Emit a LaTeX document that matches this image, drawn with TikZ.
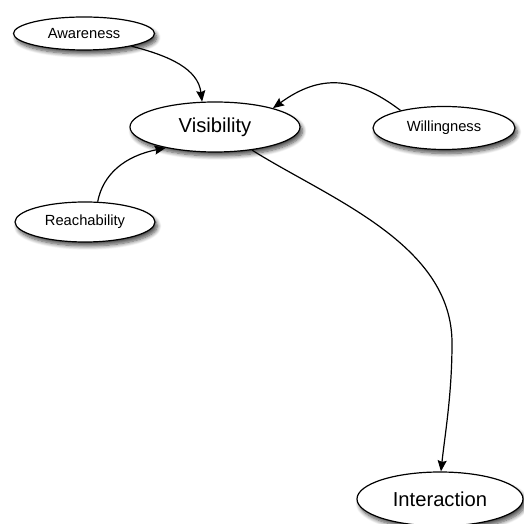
\documentclass[tikz,border=0pt]{standalone}
\usepackage{fontspec}
\setmainfont{Liberation Sans}
\usetikzlibrary{shapes.geometric,arrows.meta,shadows.blur}
\tikzset{
  bubble/.style={ellipse, draw=black, fill=white, line width=1.2pt, inner sep=0pt,
    blur shadow={shadow xshift=2.5pt, shadow yshift=-4pt, shadow blur steps=8, shadow blur radius=4pt, shadow opacity=70}},
  smalltext/.style={font=\fontsize{14.7}{16}\selectfont},
  bigtext/.style={font=\fontsize{20.2}{22}\selectfont},
  link/.style={line width=1.2pt, -{Stealth[length=11pt,width=9pt,inset=1.5pt]}}
}
\begin{document}
\begin{tikzpicture}[x=1pt,y=1pt]
\useasboundingbox (0,0) rectangle (523,524);
\node[bubble, smalltext, minimum width=141pt, minimum height=33pt] (aw) at (84,490.5) {Awareness};
\node[bubble, bigtext, minimum width=170pt, minimum height=50pt] (vis) at (215,397) {Visibility};
\node[bubble, smalltext, minimum width=142pt, minimum height=43pt] (wil) at (444,396) {Willingness};
\node[bubble, smalltext, minimum width=140pt, minimum height=40pt] (reach) at (85,302) {Reachability};
\node[bubble, bigtext, minimum width=166pt, minimum height=54pt] (int) at (440,25) {Interaction};
\draw[link] (aw.-15) .. controls (170,468) and (198,455) .. (vis.117);
\draw[link] (wil.158) .. controls (355,448) and (320,450) .. (vis.18);
\draw[link] (reach.58) .. controls (103,350) and (125,368) .. (vis.203);
\draw[link] (vis.-32) .. controls (330,325) and (452,280) .. (452,181)
  .. controls (452,130) and (445,90) .. (int.88);
\end{tikzpicture}
\end{document}
